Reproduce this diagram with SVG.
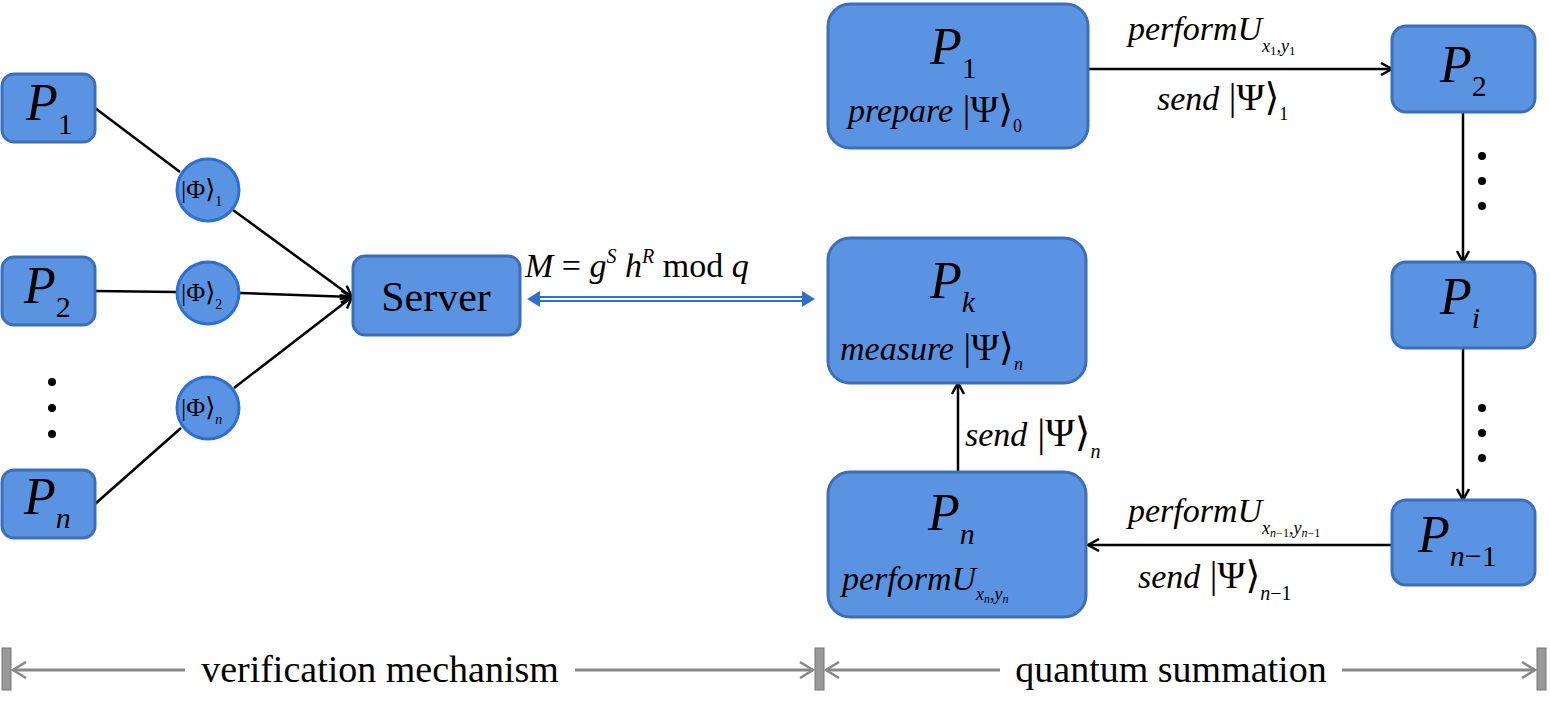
<svg xmlns="http://www.w3.org/2000/svg" width="1550" height="703" viewBox="0 0 1550 703" font-family="'Liberation Serif','Times New Roman',Tinos,'DejaVu Serif',serif">
<style>
.n{fill:#5b93e3;stroke:#3d6fb8;stroke-width:3}
.c{fill:#5b93e3;stroke:#2f6fd0;stroke-width:3}
text{font-family:'Liberation Serif','Times New Roman',Tinos,'DejaVu Serif',serif;fill:#000}
.i{font-style:italic}
.u{font-style:normal}
.P{font-size:52px;font-style:italic}
.s{font-size:30px}
.l{font-size:34px;font-style:italic}
.e{stroke:#000;stroke-width:2.5;fill:none}
.g{stroke:#888;stroke-width:3;fill:none}
</style>
<defs>
<marker id="a" markerWidth="14" markerHeight="14" refX="12" refY="7" orient="auto" markerUnits="userSpaceOnUse"><path d="M1,1 L12,7 L1,13" fill="none" stroke="#000" stroke-width="2.5"/></marker>
<marker id="ga" markerWidth="16" markerHeight="18" refX="14" refY="9" orient="auto-start-reverse" markerUnits="userSpaceOnUse"><path d="M1,1 L14,9 L1,17" fill="none" stroke="#888" stroke-width="2.5"/></marker>
</defs>
<g id="edges">
<line class="e" x1="95" y1="108" x2="180" y2="172"/>
<line class="e" x1="233" y1="210" x2="352" y2="297" marker-end="url(#a)"/>
<line class="e" x1="95" y1="291" x2="176" y2="292"/>
<line class="e" x1="240" y1="293" x2="352" y2="297" marker-end="url(#a)"/>
<line class="e" x1="95" y1="504" x2="181" y2="428"/>
<line class="e" x1="234" y1="388" x2="352" y2="297" marker-end="url(#a)"/>
<line x1="532" y1="299" x2="810" y2="299" stroke="#2f6fd0" stroke-width="6"/>
<line x1="534" y1="299" x2="808" y2="299" stroke="#fff" stroke-width="2"/>
<path d="M527,299 L540,291 L540,307 Z M815,299 L802,291 L802,307 Z" fill="#2f6fd0"/>
<line class="e" x1="1088" y1="69" x2="1392" y2="69" marker-end="url(#a)"/>
<line class="e" x1="1463" y1="112" x2="1463" y2="262" marker-end="url(#a)"/>
<line class="e" x1="1463" y1="348" x2="1463" y2="500" marker-end="url(#a)"/>
<line class="e" x1="1392" y1="545" x2="1088" y2="545" marker-end="url(#a)"/>
<line class="e" x1="958" y1="472" x2="958" y2="383" marker-end="url(#a)"/>
</g>
<g id="dots" fill="#000">
<circle cx="52" cy="382" r="4"/><circle cx="52" cy="408" r="4"/><circle cx="52" cy="434" r="4"/>
<circle cx="1482" cy="156" r="4"/><circle cx="1482" cy="181" r="4"/><circle cx="1482" cy="206" r="4"/>
<circle cx="1482" cy="408" r="4"/><circle cx="1482" cy="433" r="4"/><circle cx="1482" cy="458" r="4"/>
</g>
<g id="L1"><rect class="n" x="2" y="74" width="93" height="68" rx="12"/><text class="P" x="26" y="120">P<tspan class="s u" dy="14">1</tspan></text></g>
<g id="L2"><rect class="n" x="2" y="257" width="93" height="68" rx="12"/><text class="P" x="24" y="303">P<tspan class="s u" dy="14">2</tspan></text></g>
<g id="Ln"><rect class="n" x="2" y="470" width="93" height="68" rx="12"/><text class="P" x="24" y="514">P<tspan class="s" dy="14">n</tspan></text></g>
<g id="c1"><circle class="c" cx="208" cy="190" r="31"/><text x="181" y="198" font-size="26">|Φ⟩<tspan font-size="14" dy="8">1</tspan></text></g>
<g id="c2"><circle class="c" cx="208" cy="293" r="31"/><text x="181" y="301" font-size="26">|Φ⟩<tspan font-size="14" dy="8">2</tspan></text></g>
<g id="c3"><circle class="c" cx="208" cy="408" r="31"/><text x="181" y="416" font-size="26">|Φ⟩<tspan font-size="14" dy="8" class="i">n</tspan></text></g>
<g id="server"><rect class="n" x="353" y="256" width="167" height="79" rx="12"/><text x="436" y="311" font-size="42" text-anchor="middle">Server</text></g>
<text x="525" y="277" font-size="34"><tspan class="i">M</tspan> = <tspan class="i">g</tspan><tspan font-size="20" class="i" dy="-14">S</tspan><tspan class="i" dy="14"> h</tspan><tspan font-size="20" class="i" dy="-14">R</tspan><tspan dy="14"> mod </tspan><tspan class="i">q</tspan></text>
<g id="R1"><rect class="n" x="828" y="4" width="260" height="144" rx="22"/><text class="P" x="930" y="64">P<tspan class="s u" dy="14">1</tspan></text><text class="l" x="848" y="122">prepare<tspan class="u" font-size="38"> |Ψ⟩</tspan><tspan font-size="18" class="u" dy="10">0</tspan></text></g>
<g id="R2"><rect class="n" x="1392" y="26" width="143" height="86" rx="14"/><text class="P" x="1440" y="82">P<tspan class="s u" dy="14">2</tspan></text></g>
<g id="Ri"><rect class="n" x="1392" y="262" width="143" height="86" rx="14"/><text class="P" x="1440" y="314">P<tspan class="s" dy="14">i</tspan></text></g>
<g id="Rn1"><rect class="n" x="1392" y="500" width="143" height="85" rx="14"/><text class="P" x="1418" y="552">P<tspan class="s" dy="14">n</tspan><tspan class="s u">−1</tspan></text></g>
<g id="Rk"><rect class="n" x="828" y="238" width="258" height="145" rx="22"/><text class="P" x="930" y="298">P<tspan class="s" dy="14">k</tspan></text><text class="l" x="840" y="360">measure<tspan class="u" font-size="38"> |Ψ⟩</tspan><tspan font-size="18" dy="10">n</tspan></text></g>
<g id="Rn"><rect class="n" x="828" y="472" width="258" height="145" rx="22"/><text class="P" x="928" y="530">P<tspan class="s" dy="14">n</tspan></text><text class="l" x="842" y="590">performU<tspan font-size="18" dy="10">x</tspan><tspan font-size="12" dy="3">n</tspan><tspan font-size="18" dy="-3">,y</tspan><tspan font-size="12" dy="3">n</tspan></text></g>
<text class="l" x="1128" y="40">performU<tspan font-size="18" dy="12">x</tspan><tspan font-size="13" class="u" dy="3">1</tspan><tspan font-size="18" dy="-3">,y</tspan><tspan font-size="13" class="u" dy="3">1</tspan></text>
<text class="l" x="1157" y="110">send<tspan class="u" font-size="38"> |Ψ⟩</tspan><tspan font-size="18" class="u" dy="10">1</tspan></text>
<text class="l" x="965" y="446">send<tspan class="u" font-size="40"> |Ψ⟩</tspan><tspan font-size="20" dy="12">n</tspan></text>
<text class="l" x="1128" y="522">performU<tspan font-size="18" dy="12">x</tspan><tspan font-size="12" dy="3">n<tspan class="u">−1</tspan></tspan><tspan font-size="18" dy="-3">,y</tspan><tspan font-size="12" dy="3">n<tspan class="u">−1</tspan></tspan></text>
<text class="l" x="1138" y="588">send<tspan class="u" font-size="38"> |Ψ⟩</tspan><tspan font-size="20" dy="12">n<tspan class="u">−1</tspan></tspan></text>
<g id="scale">
<rect x="2" y="648" width="9" height="42" fill="#999" stroke="#777"/>
<rect x="815" y="648" width="9" height="42" fill="#999" stroke="#777"/>
<rect x="1537" y="648" width="9" height="42" fill="#999" stroke="#777"/>
<line class="g" x1="13" y1="670" x2="185" y2="670" marker-start="url(#ga)"/>
<line class="g" x1="575" y1="670" x2="813" y2="670" marker-end="url(#ga)"/>
<line class="g" x1="826" y1="670" x2="1000" y2="670" marker-start="url(#ga)"/>
<line class="g" x1="1342" y1="670" x2="1535" y2="670" marker-end="url(#ga)"/>
<text x="380" y="682" font-size="38" text-anchor="middle">verification mechanism</text>
<text x="1171" y="682" font-size="38" text-anchor="middle">quantum summation</text>
</g>
</svg>
